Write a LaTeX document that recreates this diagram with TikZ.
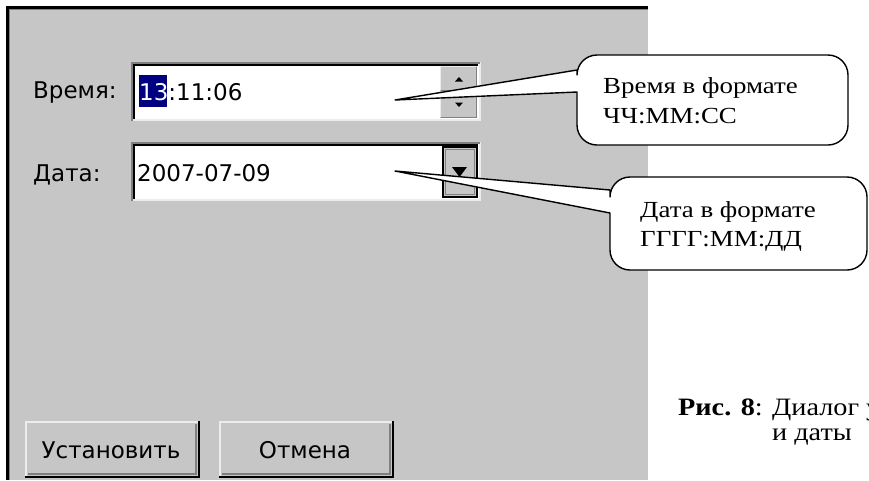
\documentclass[tikz,border=0pt]{standalone}
\usepackage{fontspec}
\setmainfont{Liberation Serif}
\newfontfamily\uifont{DejaVu Sans}
\newfontfamily\callfont[FakeStretch=1.17]{Liberation Serif}
\newfontfamily\capfont[FakeStretch=1.13]{Liberation Serif}
\definecolor{dlg}{RGB}{198,198,198}
\definecolor{navysel}{RGB}{0,0,128}
\definecolor{shadow}{RGB}{128,128,128}
\definecolor{hilite}{RGB}{236,236,236}
\tikzset{
  uitext/.style={anchor=base west, inner sep=0pt, font=\uifont\fontsize{23}{28}\selectfont},
  sertext/.style={anchor=base west, inner sep=0pt, font=\callfont\fontsize{23}{28}\selectfont},
  captext/.style={inner sep=0pt, font=\capfont\fontsize{25}{30}\selectfont},
  callout/.style={draw=black, fill=white, line width=1.4pt, line join=round},
  tri/.style={fill=black},
}
\begin{document}
\begin{tikzpicture}[x=1pt,y=-1pt]
\useasboundingbox (0,0) rectangle (869,480);
\clip (0,0) rectangle (869,480);
\fill[white] (0,0) rectangle (869,480);
% dialog panel
\fill[dlg] (6,6) rectangle (648,480);
\draw[black, line width=3pt] (7.5,480) -- (7.5,7.5) -- (648,7.5);
\draw[shadow, line width=1pt] (9.5,480) -- (9.5,9.5) -- (648,9.5);

% labels
\node[uitext] (lblTime) at (33,98) {Время:};
\node[uitext] (lblDate) at (33,181) {Дата:};

% time field (sunken)
\fill[white] (132,62) rectangle (480,121);
\draw[hilite, line width=2pt] (132,120) -- (480,120) -- (480,62);
\draw[shadow, line width=2pt] (132,121) -- (132,63) -- (480,63);
\draw[black, line width=2pt] (134,119) -- (134,65) -- (478,65);
% spinner
\fill[dlg] (440,66) rectangle (477,118);
\draw[hilite, line width=1pt] (440.5,90) -- (440.5,66.5) -- (476,66.5);
\draw[shadow, line width=1pt] (440.5,90.5) -- (476.5,90.5) -- (476.5,66.5);
\draw[hilite, line width=1pt] (440.5,117) -- (440.5,92.5) -- (476,92.5);
\draw[shadow, line width=1pt] (440.5,117.5) -- (476.5,117.5) -- (476.5,92.5);
\fill[tri] (455,81.5) -- (463,81.5) -- (459,77) -- cycle;
\fill[tri] (455,102.5) -- (463,102.5) -- (459,107) -- cycle;
% time value
\fill[navysel] (139,75) rectangle (167,107);
\node[uitext] (valTime) at (139,100) {\textcolor{white}{13}:11:06};

% date field (sunken)
\fill[white] (132,142) rectangle (480,201);
\draw[hilite, line width=2pt] (132,200) -- (480,200) -- (480,142);
\draw[shadow, line width=2pt] (132,201) -- (132,143) -- (480,143);
\draw[black, line width=2pt] (134,199) -- (134,145) -- (478,145);
% dropdown button
\fill[dlg] (442,146) rectangle (477,197);
\draw[black, line width=2pt] (443,147) rectangle (477,197);
\draw[shadow, line width=1pt] (445.5,149.5) rectangle (474.5,194.5);
\fill[tri] (452,167) -- (467,167) -- (459.5,177) -- cycle;
\node[uitext] (valDate) at (137,181) {2007-07-09};

% buttons
\foreach \bx/\bw in {25/174, 219/174}{
  \fill[dlg] (\bx,421) rectangle ++(\bw,56);
  \draw[hilite, line width=2pt] (\bx+1,476) -- (\bx+1,422) -- (\bx+\bw-1,422);
  \draw[shadow, line width=2pt] (\bx+3,474) -- (\bx+\bw-3,474) -- (\bx+\bw-3,424);
  \draw[black, line width=2pt] (\bx,477) -- (\bx+\bw,477) -- (\bx+\bw,421);
}
\node[anchor=base, inner sep=0pt, font=\uifont\fontsize{23}{28}\selectfont] (txtSet) at (111,458) {Установить};
\node[anchor=base, inner sep=0pt, font=\uifont\fontsize{23}{28}\selectfont] (txtCancel) at (305,458) {Отмена};

% callout 1
\draw[callout] (577,70) -- (395,100) -- (577,92) [rounded corners=20pt] -- (577,145) -- (848,145) -- (848,55) -- (577,55) [sharp corners] -- cycle;
\node[sertext] (c1a) at (603,93) {Время в формате};
\node[sertext] (c1b) at (603,123) {ЧЧ:ММ:СС};

% callout 2
\draw[callout] (610,190) -- (395,171) -- (610,213) [rounded corners=20pt] -- (610,270) -- (867,270) -- (867,177) -- (610,177) [sharp corners] -- cycle;
\node[sertext] (c2a) at (640,217) {Дата в формате};
\node[sertext] (c2b) at (640,246) {ГГГГ:ММ:ДД};

% caption (cut at the right edge, as in the reference)
\node[captext, anchor=base west] (cap1) at (678,415) {\textbf{Рис. 8}: Диалог установки};
\node[captext, anchor=base] (cap2) at (812,440) {и даты};
\end{tikzpicture}
\end{document}
